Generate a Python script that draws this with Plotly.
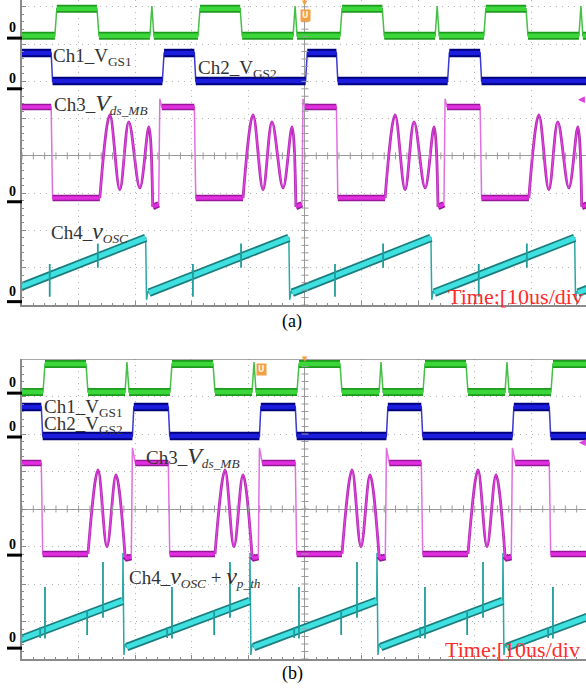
import plotly.graph_objects as go

W, H = 586, 688

# ---------------- data: time in µs (10 µs/div, 0 = screen centre), amplitude in divisions ----------------
TIME_RANGE = [-50.0, 49.65]

# panel (a)
A_CYCLES = [-69.5, -44.2, -18.9, 6.2, 31.6, 56.9]          # Ch1 rising edges
A_CH1_T = [0.0, 0.35, 7.45, 7.8, 16.8, 17.15, 17.5]
A_CH1_V = [3.22, 3.95, 3.95, 3.22, 3.22, 4.02, 3.22]
A_CH2_T = [-0.65, -0.4, 19.0, 19.3]
A_CH2_V = [2.76, 2.01, 2.01, 2.76]
A_CH3_T = [-0.65, -0.4, 7.95, None, 17.3, 18.35, 18.55, 18.9]
A_CH3_V = [1.31, -1.13, -1.13, None, -1.37, -1.30, 1.53, 1.31]
A_CH3_OSC_T = [7.95, 9.72, 11.48, 13.07, 15.02, 16.61, 17.3]
A_CH3_OSC_V = [-1.13, 1.10, -0.91, 0.91, -0.86, 0.78, -1.37]
A_CH4_T = [16.05, 16.2, 16.45, 16.65]
A_CH4_V = [-2.20, -3.86, -3.62, -3.67]
A_CH4_SPIKE_T = [-0.9, 7.6]
A_CH4_SPIKE_LO = [-3.78, -3.0]
A_CH4_SPIKE_HI = [-2.9, -2.35]
A_ZERO = [3.16, 1.80, -1.23, -3.91]

# panel (b)
B_CYCLES = [-68.7, -46.29, -23.85, -1.41, 20.85, 43.46, 65.9]
B_CH1_T = [0.0, 0.35, 7.6, 7.95, 14.5, 14.84, 15.2]
B_CH1_V = [3.12, 3.87, 3.87, 3.12, 3.12, 3.92, 3.12]
B_CH2_T = [-0.3, -0.05, 15.8, 16.05]
B_CH2_V = [2.72, 1.95, 1.95, 2.72]
B_CH3_T = [-0.3, -0.05, 7.95, None, 14.5, 14.85, 15.6, 15.8, 16.3]
B_CH3_V = [1.23, -1.20, -1.20, None, -1.25, -1.31, -1.28, 1.63, 1.23]
B_CH3_OSC_T = [7.95, 9.72, 11.3, 12.9, 14.5]
B_CH3_OSC_V = [-1.20, 1.04, -1.01, 0.91, -1.25]
B_CH4_T = [14.08, 14.13, 14.3, 14.5, 14.8]
B_CH4_V = [-2.45, -1.17, -3.89, -3.60, -3.68]
B_CH4_SPIKE_T = [-0.5, 0.35, 7.8, 10.6]
B_CH4_SPIKE_LO = [-3.44, -3.45, -3.36, -2.90]
B_CH4_SPIKE_HI = [-3.15, -2.08, -2.70, -1.41]
B_ZERO = [3.09, 1.92, -1.23, -3.71]

LABEL_FONT = "Liberation Serif"


def periodic(cycles, T, V):
    xs, ys = [], []
    for c in cycles:
        for t, v in zip(T, V):
            if t is None:
                xs.append(None); ys.append(None)
            else:
                xs.append(c + t); ys.append(v)
    return xs, ys


def osc(cycles, T, V):
    xs, ys = [], []
    for c in cycles:
        xs += [c + t for t in T] + [None]
        ys += list(V) + [None]
    return xs, ys


def flat_band(xs, ys, max_slope=0.2):
    bx, by = [], []
    for i in range(len(xs) - 1):
        x0, y0, x1, y1 = xs[i], ys[i], xs[i + 1], ys[i + 1]
        if None in (x0, y0, x1, y1) or x1 <= x0:
            continue
        if abs((y1 - y0) / (x1 - x0)) <= max_slope:
            if bx and bx[-1] == x0 and by[-1] == y0:
                bx.append(x1); by.append(y1)
            else:
                if bx:
                    bx.append(None); by.append(None)
                bx += [x0, x1]; by += [y0, y1]
    return bx, by


def spikes(cycles, T, LO, HI):
    xs, ys = [], []
    for c in cycles:
        for t, lo, hi in zip(T, LO, HI):
            xs += [c + t, c + t, None]
            ys += [lo, hi, None]
    return xs, ys


fig = go.Figure()


def line(x, y, color, width, xa, ya, shape="linear"):
    fig.add_trace(go.Scatter(x=x, y=y, mode="lines", xaxis=xa, yaxis=ya,
                             line=dict(color=color, width=width, shape=shape, smoothing=1.0),
                             connectgaps=False, hoverinfo="skip", showlegend=False))


def channel(cycles, T, V, thin, dark, core, wdark, wcore, xa, ya):
    x, y = periodic(cycles, T, V)
    line(x, y, thin, 1.5, xa, ya)
    bx, by = flat_band(x, y)
    line(bx, by, dark, wdark, xa, ya)
    line(bx, by, core, wcore, xa, ya)


def panel(P, xa, ya):
    cyc = P["cycles"]
    # Ch4 (cyan)
    channel(cyc, P["ch4_t"], P["ch4_v"], "#2aa8a8", "#1b7d7d", "#3fe0e0", 8.5, 5, xa, ya)
    sx, sy = spikes(cyc, P["sp_t"], P["sp_lo"], P["sp_hi"])
    line(sx, sy, "#1f9d9d", 1.8, xa, ya)
    # Ch3 (magenta)
    channel(cyc, P["ch3_t"], P["ch3_v"], "#e070e0", "#961896", "#e02ee0", 6.5, 3.5, xa, ya)
    ox, oy = osc(cyc, P["osc_t"], P["osc_v"])
    line(ox, oy, "#b02ab0", 2.8, xa, ya, "spline")
    line(ox, oy, "#e440e4", 1.3, xa, ya, "spline")
    # Ch2 (blue)
    channel(cyc, P["ch2_t"], P["ch2_v"], "#3a3ad0", "#00007e", "#1c1cdc", 8.5, 4.5, xa, ya)
    # Ch1 (green)
    channel(cyc, P["ch1_t"], P["ch1_v"], "#44c044", "#1e9a1e", "#3ad63a", 8, 4.5, xa, ya)


panel(dict(cycles=A_CYCLES, ch1_t=A_CH1_T, ch1_v=A_CH1_V, ch2_t=A_CH2_T, ch2_v=A_CH2_V,
           ch3_t=A_CH3_T, ch3_v=A_CH3_V, osc_t=A_CH3_OSC_T, osc_v=A_CH3_OSC_V,
           ch4_t=A_CH4_T, ch4_v=A_CH4_V, sp_t=A_CH4_SPIKE_T, sp_lo=A_CH4_SPIKE_LO,
           sp_hi=A_CH4_SPIKE_HI), "x", "y")
panel(dict(cycles=B_CYCLES, ch1_t=B_CH1_T, ch1_v=B_CH1_V, ch2_t=B_CH2_T, ch2_v=B_CH2_V,
           ch3_t=B_CH3_T, ch3_v=B_CH3_V, osc_t=B_CH3_OSC_T, osc_v=B_CH3_OSC_V,
           ch4_t=B_CH4_T, ch4_v=B_CH4_V, sp_t=B_CH4_SPIKE_T, sp_lo=B_CH4_SPIKE_LO,
           sp_hi=B_CH4_SPIKE_HI), "x2", "y2")

# centre cross-hair minor ticks
GRIDC = "#9a9a9a"
for xa, ya in (("x", "y"), ("x2", "y2")):
    tx = [TIME_RANGE[0] + 2 * i for i in range(50)]
    fig.add_trace(go.Scatter(x=tx, y=[0] * len(tx), mode="markers", xaxis=xa, yaxis=ya,
                             marker=dict(symbol="line-ns", size=5, line=dict(width=1, color=GRIDC)),
                             hoverinfo="skip", showlegend=False))
    ty = [round(-4 + 0.2 * i, 2) for i in range(41)]
    fig.add_trace(go.Scatter(x=[0] * len(ty), y=ty, mode="markers", xaxis=xa, yaxis=ya,
                             marker=dict(symbol="line-ew", size=5, line=dict(width=1, color=GRIDC)),
                             hoverinfo="skip", showlegend=False))


def px(xp):
    return xp / W


def py(yp):
    return 1 - yp / H


xdom = [px(22), 1.0]
common_x = dict(range=TIME_RANGE, domain=xdom, showgrid=True, dtick=10, tick0=0,
                gridcolor="#b5b5b5", griddash="1px,5px", gridwidth=1,
                zeroline=True, zerolinecolor=GRIDC, zerolinewidth=1,
                showline=True, linecolor="#8a8a8a", linewidth=1.5,
                ticks="inside", ticklen=4, tickcolor="#8a8a8a",
                minor=dict(dtick=2, ticks="inside", ticklen=2.5, tickcolor="#8a8a8a"),
                showticklabels=False, fixedrange=True)
common_y = dict(showgrid=True, dtick=1, tick0=0,
                gridcolor="#b5b5b5", griddash="1px,5px", gridwidth=1,
                zeroline=True, zerolinecolor=GRIDC, zerolinewidth=1,
                showline=True, linecolor="#8a8a8a", linewidth=1.5,
                ticks="inside", ticklen=4, tickcolor="#8a8a8a",
                minor=dict(dtick=0.2, ticks="inside", ticklen=2.5, tickcolor="#8a8a8a"),
                showticklabels=False, fixedrange=True)

fig.update_layout(
    width=W, height=H, margin=dict(l=0, r=0, t=0, b=0),
    paper_bgcolor="white", plot_bgcolor="white", showlegend=False,
    xaxis=dict(**common_x, anchor="y"),
    yaxis=dict(**common_y, range=[-4.0, 156 / 37.3], domain=[py(305), 1.0], anchor="x"),
    xaxis2=dict(**common_x, anchor="y2"),
    yaxis2=dict(**common_y, range=[-4.0, 4.0], domain=[py(659), py(359)], anchor="x2"),
)

shapes = []
annos = []
# top border of panel (b)
shapes.append(dict(type="line", xref="paper", yref="y2", x0=px(22), x1=1, y0=4, y1=4,
                   line=dict(color="#8a8a8a", width=1.5)))
# zero-level markers
for yref, zs in (("y", A_ZERO), ("y2", B_ZERO)):
    for z in zs:
        shapes.append(dict(type="line", xref="paper", yref=yref, x0=px(7), x1=px(22), y0=z, y1=z,
                           line=dict(color="black", width=3)))
        annos.append(dict(text="<b>0</b>", xref="paper", yref=yref, x=px(12.5), y=z,
                          xanchor="center", yanchor="bottom", yshift=1, showarrow=False,
                          font=dict(family=LABEL_FONT, size=14, color="black")))


def label(text, xp, yp, size=19, color="#333333", xanchor="left"):
    annos.append(dict(text=text, xref="paper", yref="paper", x=px(xp), y=py(yp),
                      xanchor=xanchor, yanchor="middle", showarrow=False,
                      font=dict(family=LABEL_FONT, size=size, color=color)))


BIGV = "<span style='font-size:24px'><i>%s</i></span>"
# panel (a) labels
label("Ch1_V<sub>GS1</sub>", 51, 57)
label("Ch2_V<sub>GS2</sub>", 196, 69)
label("Ch3_" + BIGV % "V" + "<sub><i>ds_MB</i></sub>", 52, 104)
label("Ch4_" + BIGV % "v" + "<sub><i>OSC</i></sub>", 49, 232)
label("Time:[10us/div", 446, 296, size=22, color="#ff2b2b")
label("(a)", 292, 322, size=18, color="black", xanchor="center")
# panel (b) labels
label("Ch1_V<sub>GS1</sub>", 42, 408)
label("Ch2_V<sub>GS2</sub>", 42, 425)
label("Ch3_" + BIGV % "V" + "<sub><i>ds_MB</i></sub>", 144, 457)
label("Ch4_" + BIGV % "v" + "<sub><i>OSC</i></sub> + " + BIGV % "v" + "<sub><i>p_th</i></sub>", 127, 577)
label("Time:[10us/div", 443, 649, size=22, color="#ff2b2b")
label("(b)", 292, 673, size=18, color="black", xanchor="center")

# trigger / reference markers
for xp, yp in ((305, 15), (261, 370)):
    annos.append(dict(text="<b>U</b>", xref="paper", yref="paper", x=px(xp), y=py(yp),
                      xanchor="center", yanchor="middle", showarrow=False,
                      bgcolor="#f5a040", borderpad=1,
                      font=dict(family="DejaVu Sans", size=8, color="#fff4e0")))
for xp, yp in ((305, 3), (305, 359)):
    annos.append(dict(text="▼", xref="paper", yref="paper", x=px(xp), y=py(yp),
                      xanchor="center", yanchor="middle", showarrow=False,
                      font=dict(family="DejaVu Sans", size=7, color="#f5a040")))
for xp, yp in ((581, 99), (582, 442)):
    annos.append(dict(text="◀", xref="paper", yref="paper", x=px(xp), y=py(yp),
                      xanchor="center", yanchor="middle", showarrow=False,
                      font=dict(family="DejaVu Sans", size=9, color="#e040e0")))

fig.update_layout(shapes=shapes, annotations=annos)
fig.write_html("out.html", config={"displayModeBar": False},
               post_script="document.body.style.margin='0';document.body.style.overflow='hidden';")
